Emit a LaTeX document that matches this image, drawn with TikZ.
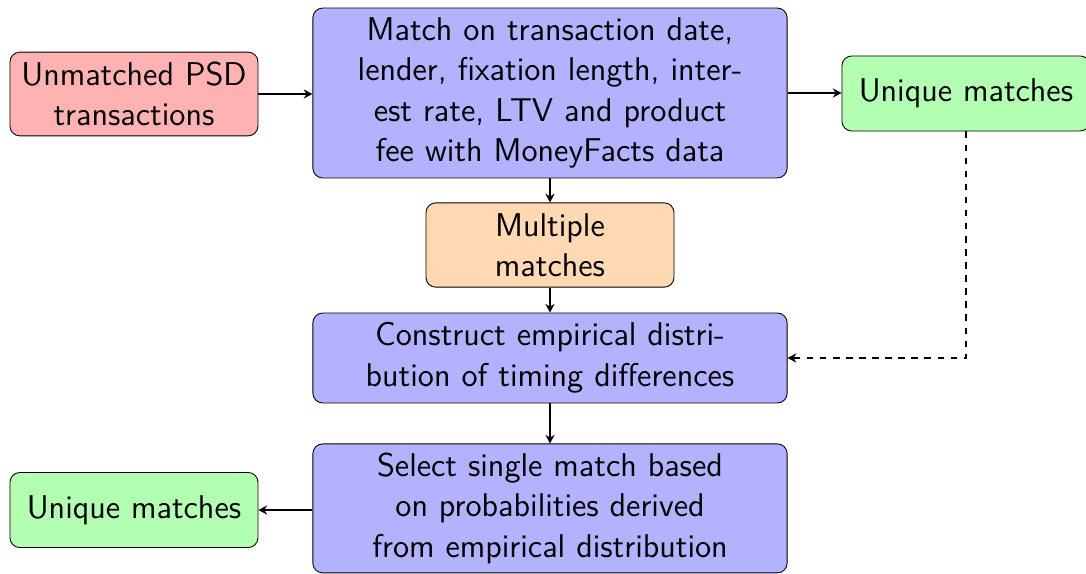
\documentclass[tikz,border=0pt]{standalone}
\usetikzlibrary{calc,arrows.meta}
\begin{document}
\begin{tikzpicture}[
  font=\sffamily\fontsize{15.1}{18.6}\selectfont,
  box/.style={draw, rounded corners=4.5pt, align=center, inner sep=0pt},
  smallbox/.style={box, minimum width=4cm, text width=3.9cm},
  widebox/.style={box, minimum width=7.65cm, text width=7.5cm},
  conn/.style={-{Stealth[length=4pt, width=4.2pt, inset=1.3pt]}, thick},
  dconn/.style={conn, dashed}
]
\useasboundingbox (0,0) rectangle (17.516,-9.258);
\node[smallbox, fill=red!30, minimum height=1.35cm] (psd) at (2.161,-1.516) {Unmatched PSD\\transactions};
\node[widebox, fill=blue!30, minimum height=2.74cm] (match) at (8.871,-1.5) {Match on transaction date,\\lender, fixation length, inter-\\est rate, LTV and product\\fee with MoneyFacts data};
\node[smallbox, fill=green!30, minimum height=1.21cm] (uniq1) at (15.58,-1.508) {Unique matches};
\node[smallbox, fill=orange!30, minimum height=1.36cm] (multi) at (8.871,-3.952) {Multiple\\matches};
\node[widebox, fill=blue!30, minimum height=1.45cm] (constr) at (8.871,-5.774) {Construct empirical distri-\\bution of timing differences};
\node[widebox, fill=blue!30, minimum height=2.08cm] (select) at (8.871,-8.2) {Select single match based\\on probabilities derived\\from empirical distribution};
\node[smallbox, fill=green!30, minimum height=1.21cm] (uniq2) at (2.161,-8.226) {Unique matches};
\draw[conn] (psd.east) -- (psd.east -| match.west);
\draw[conn] (match.east) -- (match.east -| uniq1.west);
\draw[conn] (match.south) -- (multi.north);
\draw[conn] (multi.south) -- (constr.north);
\draw[conn] (constr.south) -- (select.north);
\draw[conn] (select.west |- uniq2.east) -- (uniq2.east);
\draw[dconn] (uniq1.south) |- (constr.east);
\end{tikzpicture}
\end{document}
